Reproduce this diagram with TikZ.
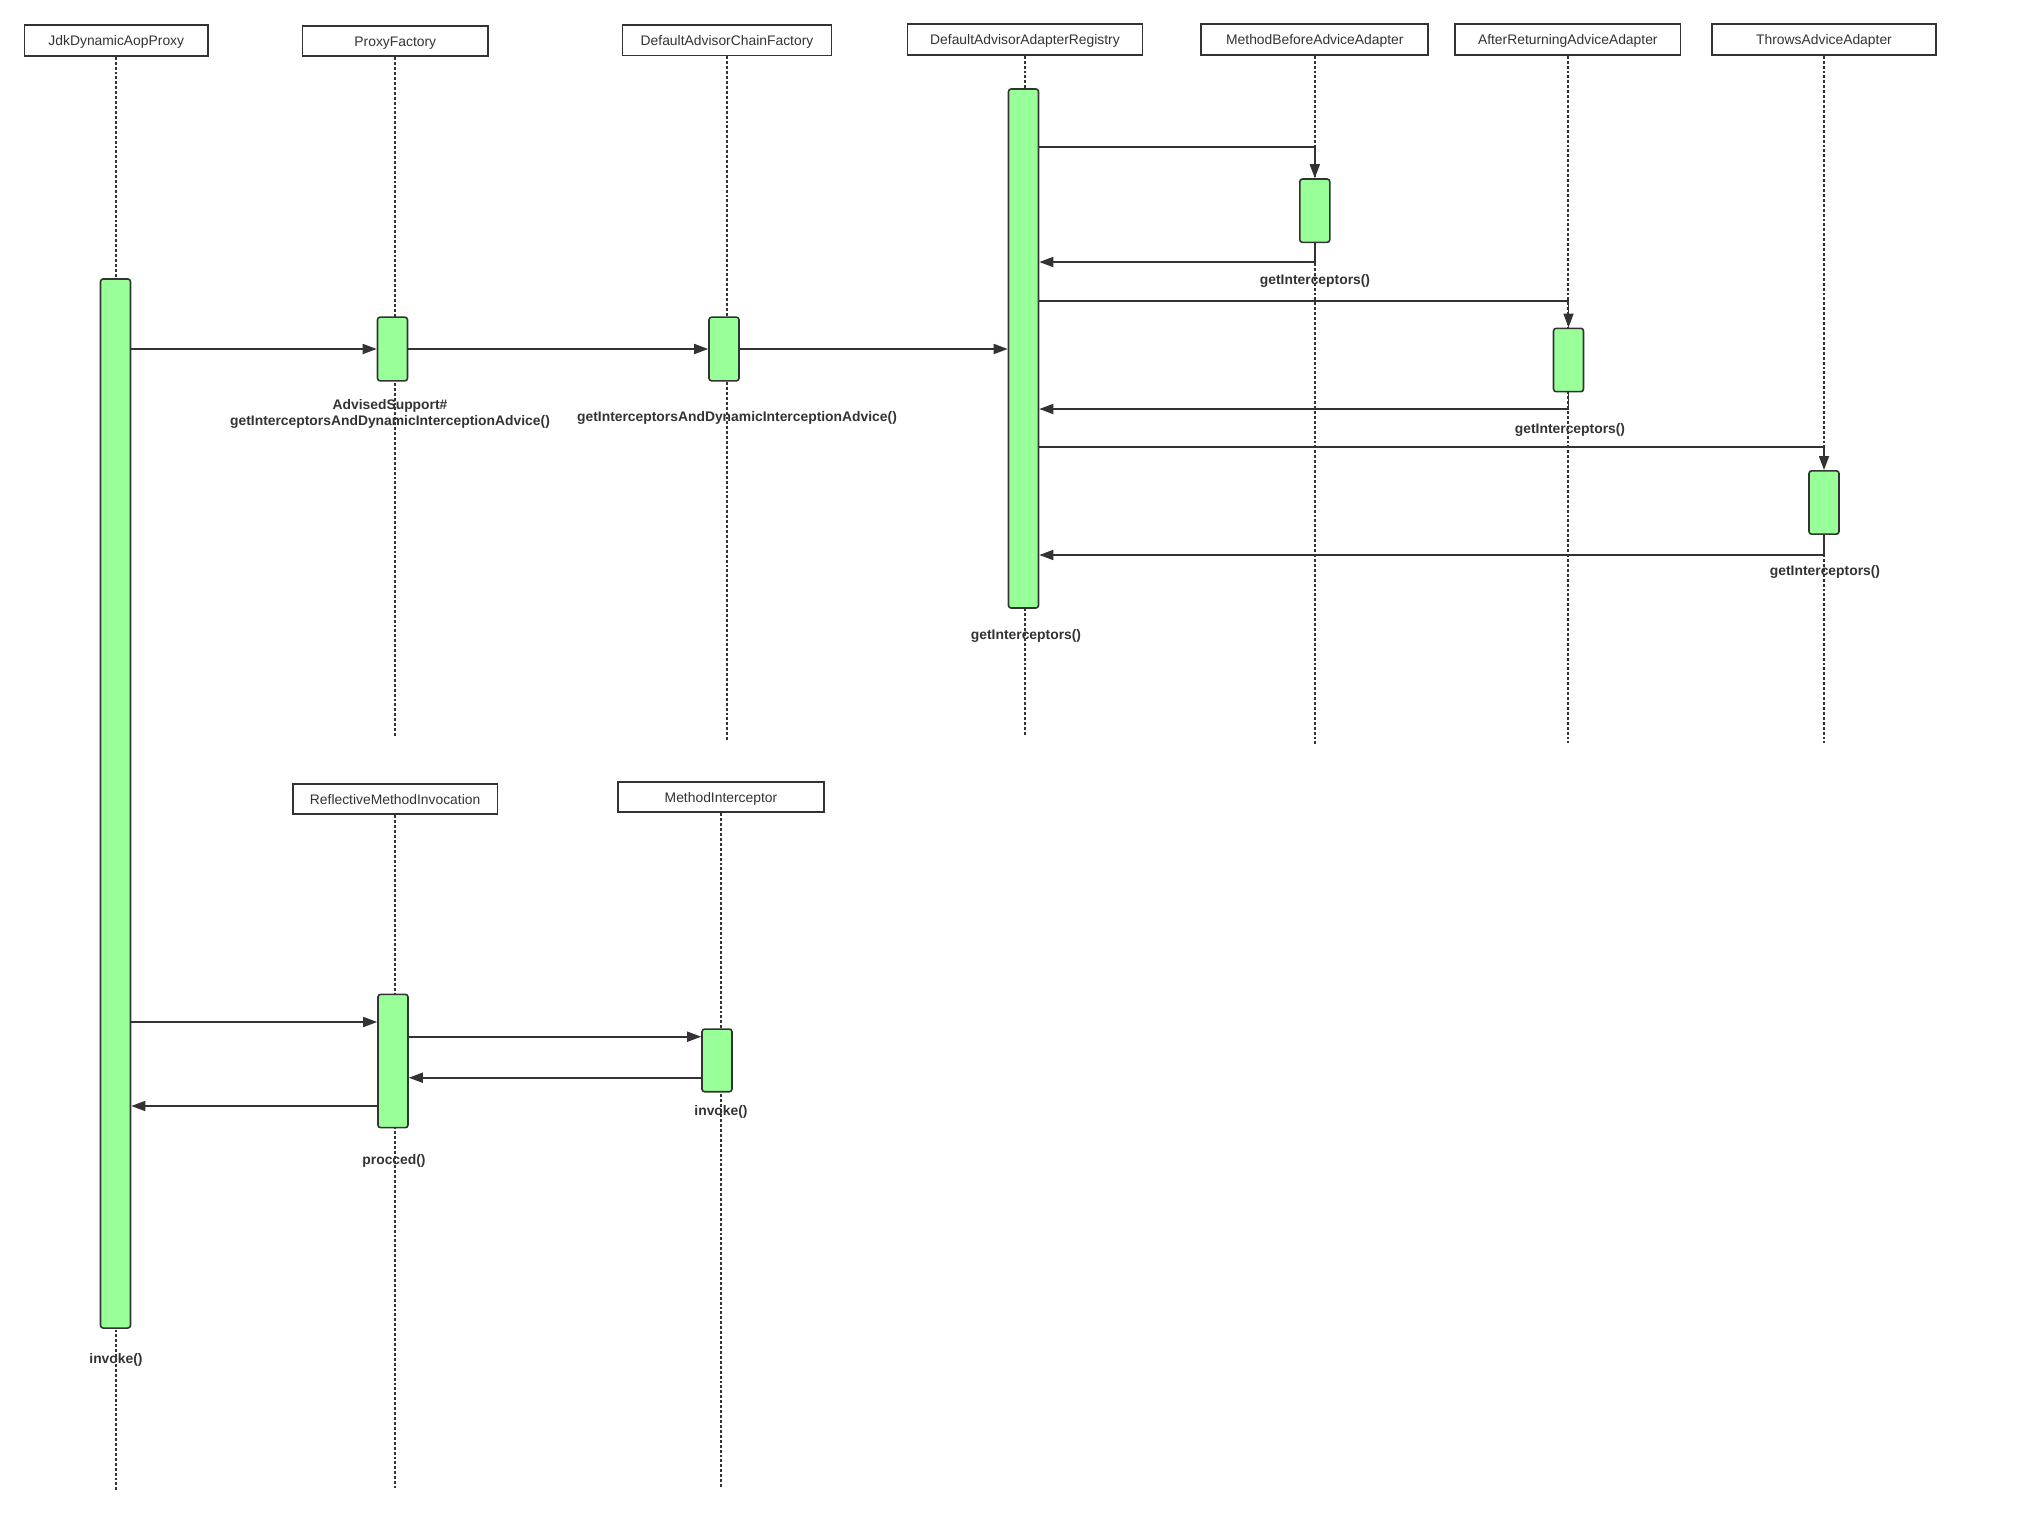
\documentclass[tikz,border=0pt]{standalone}
\usepackage{fontspec}
\setmainfont{Liberation Sans}
\usetikzlibrary{arrows.meta}

\definecolor{lineGray}{HTML}{333333}
\definecolor{barGreen}{HTML}{99FF99}

\tikzset{every picture/.style={line width=0.75pt}}
\tikzset{
  header/.style={draw=lineGray, line width=1.3pt, minimum height=23pt, inner sep=0pt,
    text=lineGray, font=\fontsize{10.4}{12.6}\selectfont,
    text height=1.6ex, text depth=0.1ex},
  actbar/.style={draw=lineGray, fill=barGreen, line width=1.2pt, rounded corners=2pt,
    minimum width=22.5pt, inner sep=0pt},
  lifeline/.style={draw=lineGray, line width=1.3pt, dash pattern=on 2.2pt off 1.5pt},
  msg/.style={draw=lineGray, line width=1.3pt, -{Triangle[length=10.5pt,width=7.5pt]}},
  lbl/.style={inner sep=0pt, text=lineGray, align=center,
    font=\bfseries\fontsize{10.4}{12.6}\selectfont}
}

\begin{document}
\begin{tikzpicture}[x=0.75pt,y=0.75pt,yscale=-1,xscale=1]
        %set diagram size
        \path[fill=white] (0,0) rectangle (2024,1517);

        %Shape: Rectangle [headers]
        \node[header, minimum width=137.6pt] (jdk) at (116.3,40.5) {JdkDynamicAopProxy};
        \node[header, minimum width=139.1pt] (pf) at (395.3,41) {ProxyFactory};
        \node[header, minimum width=156.8pt] (chain) at (727,40.2) {DefaultAdvisorChainFactory};
        \node[header, minimum width=176.1pt] (reg) at (1025,39.5) {DefaultAdvisorAdapterRegistry};
        \node[header, minimum width=170.3pt] (mba) at (1314.8,39.5) {MethodBeforeAdviceAdapter};
        \node[header, minimum width=169.2pt] (ara) at (1567.8,39.5) {AfterReturningAdviceAdapter};
        \node[header, minimum width=168pt] (tha) at (1824,39.5) {ThrowsAdviceAdapter};
        \node[header, minimum width=153.7pt] (rmi) at (395.1,799) {ReflectiveMethodInvocation};
        \node[header, minimum width=154.5pt] (mi) at (721,797) {MethodInterceptor};

        %Straight Lines [lifelines]
        \draw[lifeline] (jdk.south) -- (jdk.south |- 0,1490);
        \draw[lifeline] (pf.south) -- (pf.south |- 0,736);
        \draw[lifeline] (chain.south) -- (chain.south |- 0,741);
        \draw[lifeline] (reg.south) -- (reg.south |- 0,736);
        \draw[lifeline] (mba.south) -- (mba.south |- 0,745);
        \draw[lifeline] (ara.south) -- (ara.south |- 0,743);
        \draw[lifeline] (tha.south) -- (tha.south |- 0,743);
        \draw[lifeline] (rmi.south) -- (rmi.south |- 0,1488);
        \draw[lifeline] (mi.south) -- (mi.south |- 0,1488);

        %Shape: Rectangle [activations]
        \node[actbar, minimum height=786.8pt] (jdkbar) at (115.5,803.5) {};
        \node[actbar, minimum height=47.8pt] (pfbar) at (392.5,349) {};
        \node[actbar, minimum height=47.8pt] (chbar) at (724,349) {};
        \node[actbar, minimum height=389.3pt] (regbar) at (1023.5,348.5) {};
        \node[actbar, minimum height=47.5pt] (mbabar) at (1314.8,210.7) {};
        \node[actbar, minimum height=47.5pt] (arabar) at (1568.5,360) {};
        \node[actbar, minimum height=47.5pt] (thabar) at (1824,502.5) {};
        \node[actbar, minimum height=100pt] (rmibar) at (393,1061) {};
        \node[actbar, minimum height=47pt] (mibar) at (717,1060.4) {};

        %Straight Lines [calls]
        \draw[msg] (jdkbar.east |- pfbar.west) -- (pfbar.west);
        \draw[msg] (pfbar.east) -- (chbar.west);
        \draw[msg] (chbar.east) -- (regbar.west |- chbar.east);

        \coordinate (mbaIn) at (1314.8,147);
        \coordinate (mbaOut) at (1314.8,262);
        \coordinate (araIn) at (1568.5,300.7);
        \coordinate (araOut) at (1568.5,409);
        \coordinate (thaIn) at (1824,446.7);
        \coordinate (thaOut) at (1824,555);
        \draw[msg] (regbar.east |- mbaIn) -| (mbabar.north);
        \draw[msg] (mbabar.south) |- (regbar.east |- mbaOut);
        \draw[msg] (regbar.east |- araIn) -| (arabar.north);
        \draw[msg] (arabar.south) |- (regbar.east |- araOut);
        \draw[msg] (regbar.east |- thaIn) -| (thabar.north);
        \draw[msg] (thabar.south) |- (regbar.east |- thaOut);

        \coordinate (toRmi) at (250,1022);
        \coordinate (toMi) at (550,1036.7);
        \coordinate (fromMi) at (550,1077.7);
        \coordinate (fromRmi) at (250,1106);
        \draw[msg] (jdkbar.east |- toRmi) -- (rmibar.west |- toRmi);
        \draw[msg] (rmibar.east |- toMi) -- (mibar.west |- toMi);
        \draw[msg] (mibar.west |- fromMi) -- (rmibar.east |- fromMi);
        \draw[msg] (rmibar.west |- fromRmi) -- (jdkbar.east |- fromRmi);

        % Text Node
        \node[lbl] (pfLbl) at (390,414) {AdvisedSupport\#\\getInterceptorsAndDynamicInterceptionAdvice()};
        % Text Node
        \node[lbl] (chLbl) at (737,418) {getInterceptorsAndDynamicInterceptionAdvice()};
        % Text Node
        \node[lbl] (mbaLbl) at (1315,281) {getInterceptors()};
        % Text Node
        \node[lbl] (araLbl) at (1570,430) {getInterceptors()};
        % Text Node
        \node[lbl] (thaLbl) at (1825,572) {getInterceptors()};
        % Text Node
        \node[lbl] (regLbl) at (1026,636) {getInterceptors()};
        % Text Node
        \node[lbl] (miLbl) at (721,1112) {invoke()};
        % Text Node
        \node[lbl] (rmiLbl) at (394,1161) {procced()};
        % Text Node
        \node[lbl] (jdkLbl) at (116,1360) {invoke()};

\end{tikzpicture}
\end{document}
